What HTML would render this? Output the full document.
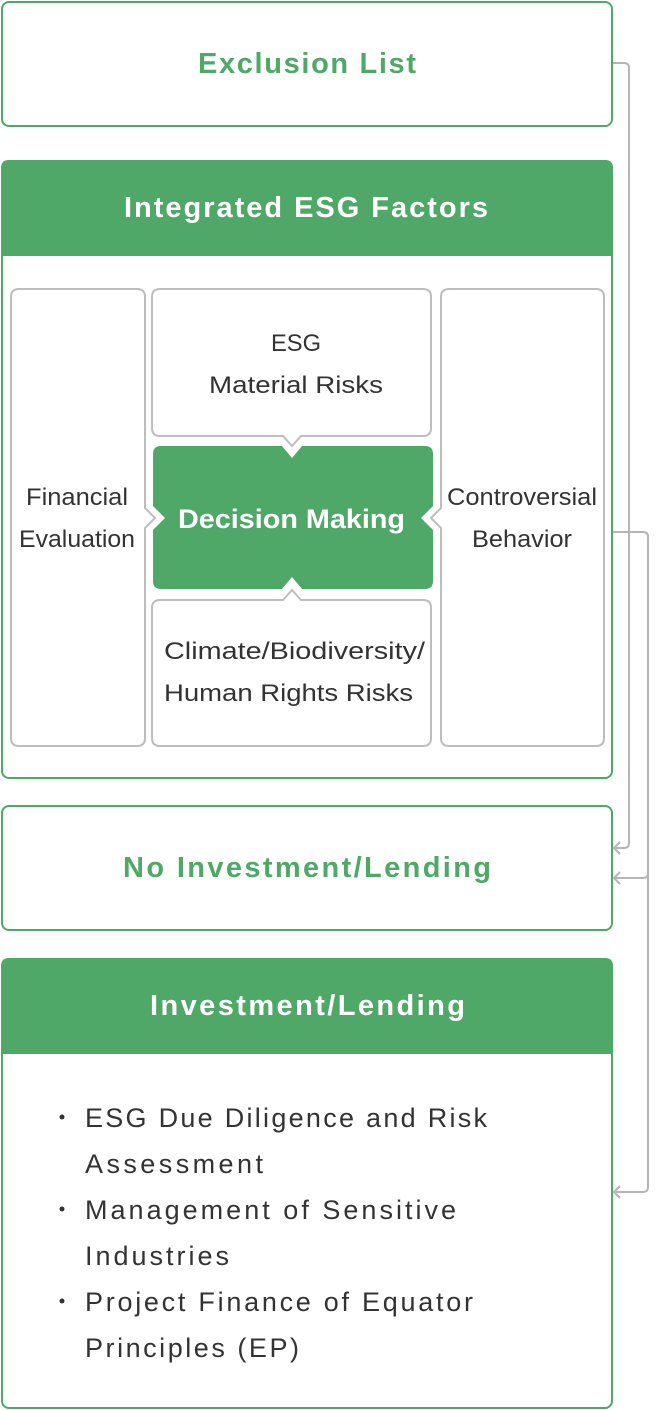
<!DOCTYPE html>
<html><head><meta charset="utf-8"><style>
html,body{margin:0;padding:0;background:#fff;}
svg{display:block;}
text{font-family:"Liberation Sans",sans-serif;}
</style></head><body>
<svg width="666" height="1410" viewBox="0 0 666 1410" xmlns="http://www.w3.org/2000/svg">
<g fill="none" stroke="#b5b5b5" stroke-width="2">
  <path d="M613 63 H624 Q629 63 629 68 V843 Q629 848 624 848 H614"/>
  <path d="M620 842 L614 848 L620 854"/>
  <path d="M613 532 H643 Q648 532 648 537 V873 Q648 878 643 878 H614"/>
  <path d="M620 872 L614 878 L620 884"/>
  <path d="M648 870 V1187 Q648 1192 643 1192 H614"/>
  <path d="M620 1186 L614 1192 L620 1198"/>
</g>
<rect x="2" y="2" width="610" height="124" rx="7" fill="#fff" stroke="#4fa867" stroke-width="2"/>
<text x="198" y="73" font-size="29" font-weight="bold" fill="#4fa867" textLength="218" lengthAdjust="spacing">Exclusion List</text>
<rect x="2" y="161" width="610" height="617" rx="7" fill="#fff" stroke="#4fa867" stroke-width="2"/>
<path d="M1 168 Q1 160 9 160 H605 Q613 160 613 168 V256 H1 Z" fill="#4fa867"/>
<text x="124" y="217" font-size="29" font-weight="bold" fill="#fff" textLength="364" lengthAdjust="spacing">Integrated ESG Factors</text>
<g fill="#fff" stroke="#bdbdbd" stroke-width="2">
  <path d="M19 289 H137 Q145 289 145 297 V508 L155 518 L145 528 V738 Q145 746 137 746 H19 Q11 746 11 738 V297 Q11 289 19 289 Z"/>
  <path d="M160 289 H423 Q431 289 431 297 V428 Q431 436 423 436 H301 L292 446 L283 436 H160 Q152 436 152 428 V297 Q152 289 160 289 Z"/>
  <path d="M160 600 H283 L292 590 L301 600 H423 Q431 600 431 608 V738 Q431 746 423 746 H160 Q152 746 152 738 V608 Q152 600 160 600 Z"/>
  <path d="M449 289 H596 Q604 289 604 297 V738 Q604 746 596 746 H449 Q441 746 441 738 V528 L431 518 L441 508 V297 Q441 289 449 289 Z"/>
</g>
<path d="M161 446 H282 L292 458 L302 446 H425 Q433 446 433 454 V506 L421 518 L433 530 V581 Q433 589 425 589 H302 L292 577 L282 589 H161 Q153 589 153 581 V530 L165 518 L153 506 V454 Q153 446 161 446 Z" fill="#4fa867"/>
<text x="178" y="528" font-size="27" font-weight="bold" fill="#fff" textLength="227" lengthAdjust="spacingAndGlyphs">Decision Making</text>
<g font-size="24" fill="#333">
  <text x="26" y="505" textLength="102" lengthAdjust="spacingAndGlyphs">Financial</text>
  <text x="19" y="547" textLength="116" lengthAdjust="spacingAndGlyphs">Evaluation</text>
  <text x="271" y="351" textLength="50" lengthAdjust="spacingAndGlyphs">ESG</text>
  <text x="209" y="393" textLength="174" lengthAdjust="spacingAndGlyphs">Material Risks</text>
  <text x="164" y="659" textLength="261" lengthAdjust="spacingAndGlyphs">Climate/Biodiversity/</text>
  <text x="164" y="701" textLength="249" lengthAdjust="spacingAndGlyphs">Human Rights Risks</text>
  <text x="447" y="505" textLength="150" lengthAdjust="spacingAndGlyphs">Controversial</text>
  <text x="472" y="547" textLength="100" lengthAdjust="spacingAndGlyphs">Behavior</text>
</g>
<rect x="2" y="806" width="610" height="124" rx="7" fill="#fff" stroke="#4fa867" stroke-width="2"/>
<text x="123" y="877" font-size="29" font-weight="bold" fill="#4fa867" textLength="368" lengthAdjust="spacing">No Investment/Lending</text>
<rect x="2" y="959" width="610" height="449" rx="7" fill="#fff" stroke="#4fa867" stroke-width="2"/>
<path d="M1 966 Q1 958 9 958 H605 Q613 958 613 966 V1054 H1 Z" fill="#4fa867"/>
<text x="150" y="1015" font-size="29" font-weight="bold" fill="#fff" textLength="315" lengthAdjust="spacing">Investment/Lending</text>
<g font-size="27" fill="#333">
  <circle cx="62" cy="1117" r="2.5" fill="#333"/>
  <text x="85" y="1127" textLength="402" lengthAdjust="spacing">ESG Due Diligence and Risk</text>
  <text x="85" y="1173" textLength="178" lengthAdjust="spacing">Assessment</text>
  <circle cx="62" cy="1209" r="2.5" fill="#333"/>
  <text x="85" y="1219" textLength="371" lengthAdjust="spacing">Management of Sensitive</text>
  <text x="85" y="1265" textLength="144" lengthAdjust="spacing">Industries</text>
  <circle cx="62" cy="1301" r="2.5" fill="#333"/>
  <text x="85" y="1311" textLength="388" lengthAdjust="spacing">Project Finance of Equator</text>
  <text x="85" y="1357" textLength="214" lengthAdjust="spacing">Principles (EP)</text>
</g>
</svg>
</body></html>
